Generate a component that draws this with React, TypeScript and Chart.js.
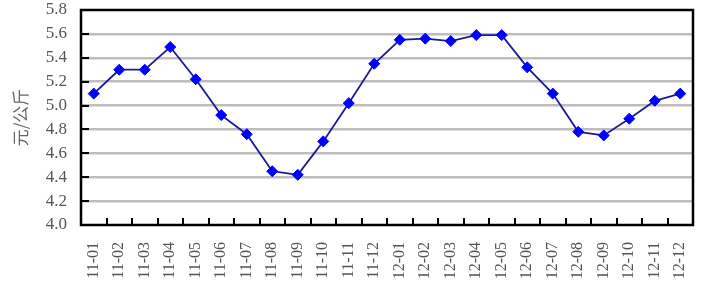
import { useEffect, useRef } from "react";
import { Chart, registerables } from "chart.js";

Chart.register(...registerables);

const categories = [
  "11-01", "11-02", "11-03", "11-04", "11-05", "11-06", "11-07", "11-08", "11-09", "11-10", "11-11", "11-12",
  "12-01", "12-02", "12-03", "12-04", "12-05", "12-06", "12-07", "12-08", "12-09", "12-10", "12-11", "12-12",
];
const prices = [
  5.1, 5.3, 5.3, 5.49, 5.22, 4.92, 4.76, 4.45, 4.42, 4.7, 5.02, 5.35,
  5.55, 5.56, 5.54, 5.59, 5.59, 5.32, 5.1, 4.78, 4.75, 4.89, 5.04, 5.1,
];
const yMin = 4.0;
const yMax = 5.8;
const yStep = 0.2;
const yTitle = "元/公斤";

const SERIF = "'Liberation Serif', serif";

const framePlugin = {
  id: "frame",
  beforeDatasetsDraw(chart: any) {
    const { ctx, chartArea: a, scales } = chart;
    const x = scales.x;
    const y = scales.y;
    ctx.save();
    ctx.strokeStyle = "#000";
    ctx.lineWidth = 2;
    y.ticks.forEach((t: any) => {
      if (t.value <= yMin + 1e-9 || t.value >= yMax - 1e-9) return;
      const py = Math.round(y.getPixelForValue(t.value));
      ctx.beginPath();
      ctx.moveTo(a.left, py);
      ctx.lineTo(a.left + 8, py);
      ctx.stroke();
    });
    for (let i = 0; i < categories.length - 1; i++) {
      const px = Math.round((x.getPixelForValue(i) + x.getPixelForValue(i + 1)) / 2);
      ctx.beginPath();
      ctx.moveTo(px, a.bottom);
      ctx.lineTo(px, a.bottom - 7);
      ctx.stroke();
    }
    ctx.lineWidth = 2.5;
    ctx.strokeRect(a.left, a.top, a.right - a.left, a.bottom - a.top);
    ctx.restore();
  },
};

export default function App() {
  const ref = useRef<HTMLCanvasElement | null>(null);
  useEffect(() => {
    document.body.style.margin = "0";
    const chart = new Chart(ref.current as HTMLCanvasElement, {
      type: "line",
      data: {
        labels: categories,
        datasets: [
          {
            data: prices,
            borderColor: "#1a1a99",
            borderWidth: 1.8,
            pointStyle: "rectRot",
            pointRadius: 5.5,
            pointBackgroundColor: "#0000ff",
            pointBorderColor: "#0000ff",
            pointBorderWidth: 1,
            tension: 0,
          },
        ],
      },
      options: {
        animation: false,
        responsive: false,
        maintainAspectRatio: false,
        layout: { padding: { left: 0, right: 9, top: 10, bottom: 0 } },
        plugins: { legend: { display: false }, tooltip: { enabled: false } },
        scales: {
          x: {
            offset: true,
            grid: { display: false, drawTicks: false },
            border: { display: false },
            ticks: {
              minRotation: 90,
              maxRotation: 90,
              autoSkip: false,
              padding: 17,
              color: "#555",
              font: { family: SERIF, size: 16 },
            },
            afterFit(scale: any) {
              scale.height = 75;
              scale.paddingLeft = 0;
              scale.paddingRight = 0;
            },
          },
          y: {
            min: yMin,
            max: yMax,
            grid: {
              drawTicks: false,
              lineWidth: 2.5,
              color: (c: any) =>
                c.tick && (c.tick.value <= yMin + 1e-9 || c.tick.value >= yMax - 1e-9)
                  ? "rgba(0,0,0,0)"
                  : "#bdbdbd",
            },
            border: { display: false },
            ticks: {
              stepSize: yStep,
              autoSkip: false,
              padding: 14,
              color: "#555",
              font: { family: SERIF, size: 17 },
              callback: (v: any) => Number(v).toFixed(1),
            },
            title: {
              display: true,
              text: yTitle,
              color: "#666",
              padding: { top: 10, bottom: 0 },
              font: { family: "'Noto Sans CJK SC', sans-serif", size: 17 },
            },
            afterFit(scale: any) {
              scale.width = 81;
              scale.paddingTop = 0;
              scale.paddingBottom = 0;
            },
          },
        },
      },
      plugins: [framePlugin],
    });
    return () => chart.destroy();
  }, []);
  return (
    <div style={{ width: 702, height: 300, position: "relative" }}>
      <canvas ref={ref} width={702} height={300} style={{ width: 702, height: 300, display: "block" }} />
    </div>
  );
}
